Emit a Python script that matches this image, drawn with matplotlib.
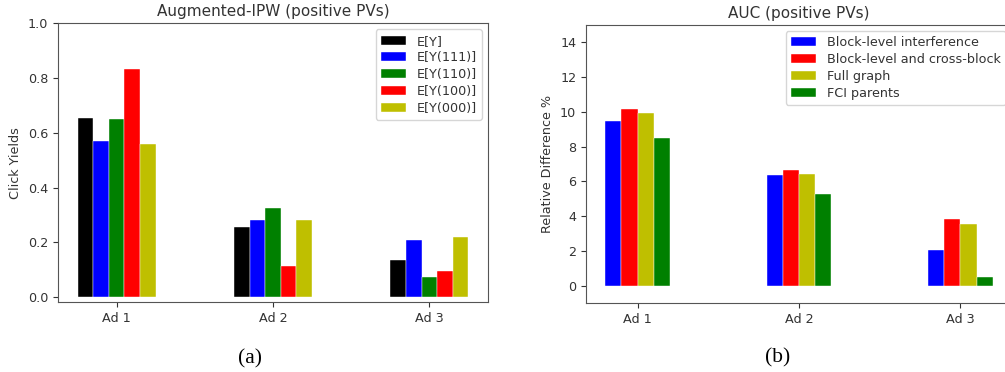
import matplotlib
matplotlib.use("Agg")
import matplotlib.pyplot as plt
import numpy as np

ads = ["Ad 1", "Ad 2", "Ad 3"]

# Panel (a): Augmented-IPW click yields
ipw_labels = ["E[Y]", "E[Y(111)]", "E[Y(110)]", "E[Y(100)]", "E[Y(000)]"]
ipw_colors = ["k", "b", "g", "r", "y"]
e_y = [0.654, 0.255, 0.134]
e_y111 = [0.569, 0.283, 0.209]
e_y110 = [0.649, 0.326, 0.073]
e_y100 = [0.831, 0.115, 0.095]
e_y000 = [0.559, 0.283, 0.219]
ipw_series = [e_y, e_y111, e_y110, e_y100, e_y000]

# Panel (b): AUC relative difference %
auc_labels = ["Block-level interference", "Block-level and cross-block",
              "Full graph", "FCI parents"]
auc_colors = ["b", "r", "y", "g"]
block_level = [9.46, 6.37, 2.03]
block_cross = [10.19, 6.66, 3.86]
full_graph = [9.96, 6.45, 3.57]
fci_parents = [8.49, 5.25, 0.48]
auc_series = [block_level, block_cross, full_graph, fci_parents]

text_c = "#333333"
plt.rcParams.update({
    "font.family": "DejaVu Sans",
    "font.size": 9.2,
    "text.color": text_c,
    "axes.labelcolor": text_c,
    "xtick.color": text_c,
    "ytick.color": text_c,
    "axes.edgecolor": "#555555",
})

fig = plt.figure(figsize=(10.05, 3.72), dpi=100)
ax1 = fig.add_axes([0.0577, 0.188, 0.4279, 0.750])
ax2 = fig.add_axes([0.583, 0.185, 0.424, 0.748])

x = np.arange(len(ads))
w = 0.1
for i, (vals, lab, c) in enumerate(zip(ipw_series, ipw_labels, ipw_colors)):
    ax1.bar(x + (i - 2) * w, vals, w, color=c, label=lab,
            edgecolor="white", linewidth=0.3)
ax1.set_xticks(x)
ax1.set_xticklabels(ads)
ax1.set_ylim(-0.018, 1.0)
ax1.set_yticks([0.0, 0.2, 0.4, 0.6, 0.8, 1.0])
ax1.set_ylabel("Click Yields", fontsize=9.2)
ax1.set_title("Augmented-IPW (positive PVs)", fontsize=11, pad=5)
ax1.legend(loc="upper right", fontsize=9.2, handlelength=2.0, labelspacing=0.3)

for i, (vals, lab, c) in enumerate(zip(auc_series, auc_labels, auc_colors)):
    ax2.bar(x + (i - 1.5) * w, vals, w, color=c, label=lab,
            edgecolor="white", linewidth=0.3)
ax2.set_xticks(x)
ax2.set_xticklabels(ads)
ax2.set_ylim(-1, 15)
ax2.set_yticks([0, 2, 4, 6, 8, 10, 12, 14])
ax2.set_ylabel("Relative Difference %", fontsize=9.2)
ax2.set_title("AUC (positive PVs)", fontsize=11, pad=5)
ax2.legend(loc="upper right", fontsize=9.2, handlelength=2.0, labelspacing=0.3)

fig.text(0.249, 0.035, "(a)", family="Liberation Serif", fontsize=15.5,
         color="black", ha="center", va="center")
fig.text(0.774, 0.038, "(b)", family="Liberation Serif", fontsize=15.5,
         color="black", ha="center", va="center")

fig.savefig("out.png", dpi=100)
